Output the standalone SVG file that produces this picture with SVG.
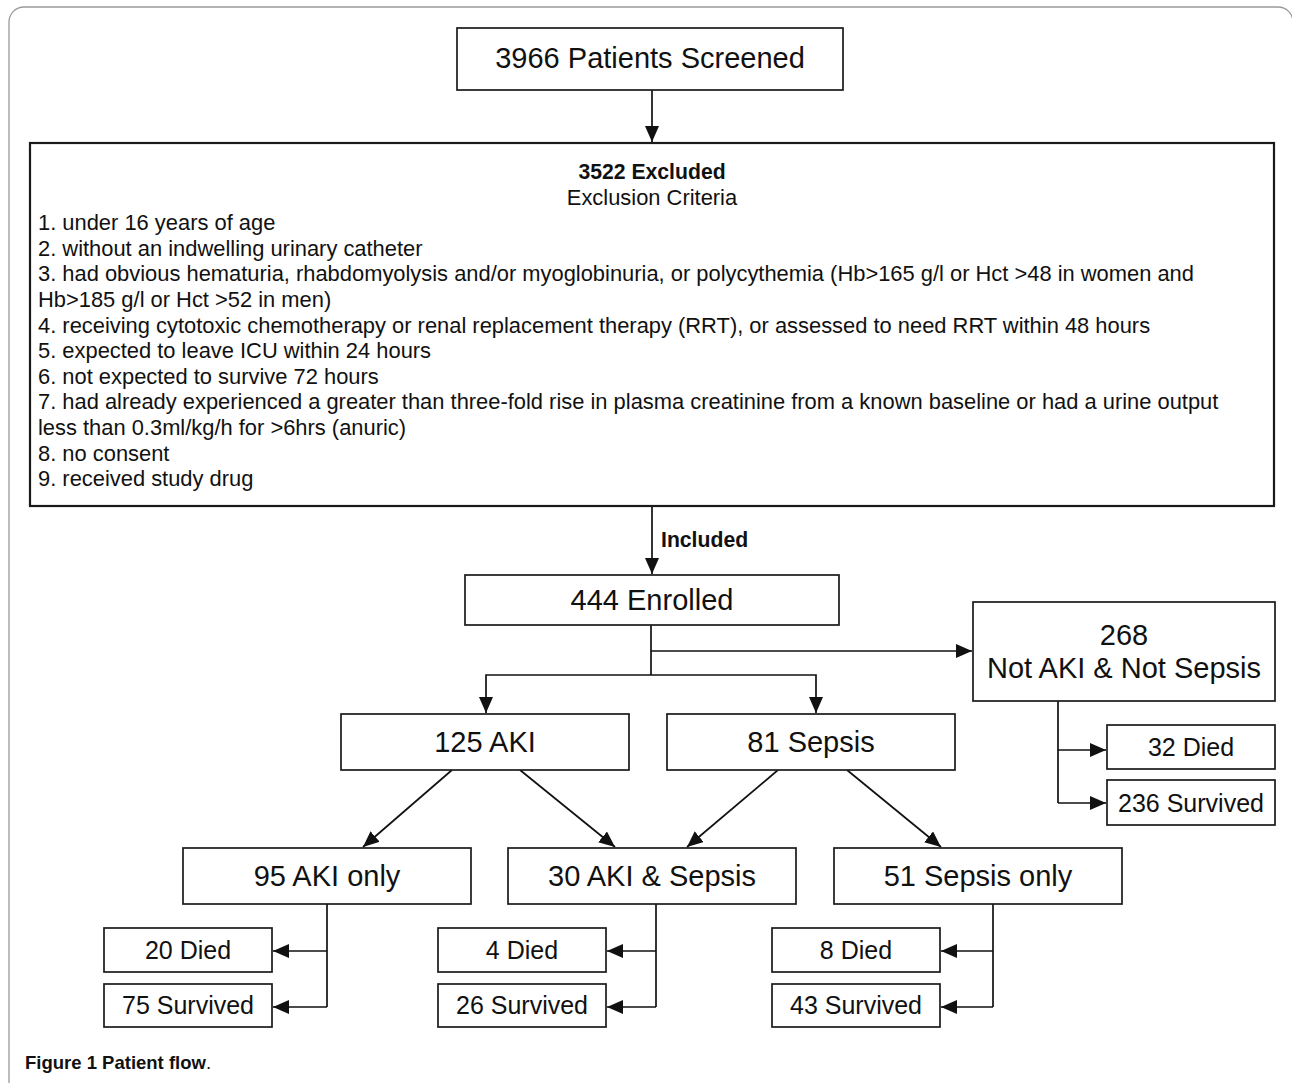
<svg xmlns="http://www.w3.org/2000/svg" width="1292" height="1085" viewBox="0 0 1292 1085">
<style>
.box{fill:#fff;stroke:#1a1a1a;stroke-width:1.7}
.big{font-family:"Liberation Sans",Arial,sans-serif;font-size:29px;fill:#111;text-anchor:middle}
.sm{font-family:"Liberation Sans",Arial,sans-serif;font-size:25px;fill:#111;text-anchor:middle}
.ex{font-family:"Liberation Sans",Arial,sans-serif;font-size:21.9px;fill:#111}
.exb{font-family:"Liberation Sans",Arial,sans-serif;font-size:21.2px;fill:#111;font-weight:bold}
.ln{fill:none;stroke:#111;stroke-width:1.7}
.arr{fill:none;stroke:#111;stroke-width:1.7;marker-end:url(#ah)}
.cap{font-family:"Liberation Sans",Arial,sans-serif;font-size:18.5px;fill:#111}
</style>
<defs>
<marker id="ah" markerUnits="userSpaceOnUse" markerWidth="17" markerHeight="14" refX="16" refY="7" orient="auto">
<path d="M0,0 L16,7 L0,14 z" fill="#111"/>
</marker>
</defs>
<rect width="1292" height="1085" fill="#fff"/>
<path d="M9,1083 V22 A15,15 0 0 1 24,7 H1278 A15,15 0 0 1 1293,22 V1083" fill="none" stroke="#9a9a9a" stroke-width="1.3"/>

<g id="connectors">
<line class="arr" x1="652" y1="90" x2="652" y2="142"/>
<line class="arr" x1="652" y1="506" x2="652" y2="574"/>
<polyline class="ln" points="651,625 651,675"/>
<line class="arr" x1="651" y1="651" x2="972" y2="651"/>
<polyline class="arr" points="651,675 486,675 486,713"/>
<polyline class="arr" points="651,675 816,675 816,713"/>
<line class="arr" x1="452" y1="770" x2="363" y2="847"/>
<line class="arr" x1="520" y1="770" x2="615" y2="847"/>
<line class="arr" x1="778" y1="770" x2="687" y2="847"/>
<line class="arr" x1="847" y1="770" x2="941" y2="847"/>
<polyline class="ln" points="327,904 327,1007"/>
<line class="arr" x1="327" y1="951" x2="273" y2="951"/>
<line class="arr" x1="327" y1="1007" x2="273" y2="1007"/>
<polyline class="ln" points="656,904 656,1007"/>
<line class="arr" x1="656" y1="951" x2="607" y2="951"/>
<line class="arr" x1="656" y1="1007" x2="607" y2="1007"/>
<polyline class="ln" points="993,904 993,1007"/>
<line class="arr" x1="993" y1="951" x2="941" y2="951"/>
<line class="arr" x1="993" y1="1007" x2="941" y2="1007"/>
<polyline class="ln" points="1058,701 1058,803"/>
<line class="arr" x1="1058" y1="750" x2="1106" y2="750"/>
<line class="arr" x1="1058" y1="803" x2="1106" y2="803"/>
<text class="exb" x="661" y="547">Included</text>
</g>

<g id="screened">
<rect class="box" x="457" y="28" width="386" height="62"/>
<text class="big" x="650" y="68">3966 Patients Screened</text>
</g>

<g id="excluded">
<rect class="box" x="30" y="143" width="1244" height="363" style="stroke-width:2.2"/>
<text class="exb" x="652" y="179" text-anchor="middle">3522 Excluded</text>
<text class="ex" x="652" y="204.6" text-anchor="middle">Exclusion Criteria</text>
<text class="ex" x="38" y="230.2">1. under 16 years of age</text>
<text class="ex" x="38" y="255.8">2. without an indwelling urinary catheter</text>
<text class="ex" x="38" y="281.4">3. had obvious hematuria, rhabdomyolysis and/or myoglobinuria, or polycythemia (Hb&gt;165 g/l or Hct &gt;48 in women and</text>
<text class="ex" x="38" y="307">Hb&gt;185 g/l or Hct &gt;52 in men)</text>
<text class="ex" x="38" y="332.6">4. receiving cytotoxic chemotherapy or renal replacement therapy (RRT), or assessed to need RRT within 48 hours</text>
<text class="ex" x="38" y="358.2">5. expected to leave ICU within 24 hours</text>
<text class="ex" x="38" y="383.8">6. not expected to survive 72 hours</text>
<text class="ex" x="38" y="409.4">7. had already experienced a greater than three-fold rise in plasma creatinine from a known baseline or had a urine output</text>
<text class="ex" x="38" y="435">less than 0.3ml/kg/h for &gt;6hrs (anuric)</text>
<text class="ex" x="38" y="460.6">8. no consent</text>
<text class="ex" x="38" y="486.2">9. received study drug</text>
</g>

<g id="enrolled">
<rect class="box" x="465" y="575" width="374" height="50"/>
<text class="big" x="652" y="610">444 Enrolled</text>
</g>

<g id="notaki">
<rect class="box" x="973" y="602" width="302" height="99"/>
<text class="big" x="1124" y="645">268</text>
<text class="big" x="1124" y="678">Not AKI &amp; Not Sepsis</text>
</g>

<g id="aki">
<rect class="box" x="341" y="714" width="288" height="56"/>
<text class="big" x="485" y="752">125 AKI</text>
</g>

<g id="sepsis">
<rect class="box" x="667" y="714" width="288" height="56"/>
<text class="big" x="811" y="752">81 Sepsis</text>
</g>

<g id="akionly">
<rect class="box" x="183" y="848" width="288" height="56"/>
<text class="big" x="327" y="886">95 AKI only</text>
</g>

<g id="akisepsis">
<rect class="box" x="508" y="848" width="288" height="56"/>
<text class="big" x="652" y="886">30 AKI &amp; Sepsis</text>
</g>

<g id="sepsisonly">
<rect class="box" x="834" y="848" width="288" height="56"/>
<text class="big" x="978" y="886">51 Sepsis only</text>
</g>

<g id="died20">
<rect class="box" x="104" y="928" width="168" height="44"/>
<text class="sm" x="188" y="959">20 Died</text>
</g>
<g id="surv75">
<rect class="box" x="104" y="984" width="168" height="43"/>
<text class="sm" x="188" y="1014">75 Survived</text>
</g>
<g id="died4">
<rect class="box" x="438" y="928" width="168" height="44"/>
<text class="sm" x="522" y="959">4 Died</text>
</g>
<g id="surv26">
<rect class="box" x="438" y="984" width="168" height="43"/>
<text class="sm" x="522" y="1014">26 Survived</text>
</g>
<g id="died8">
<rect class="box" x="772" y="928" width="168" height="44"/>
<text class="sm" x="856" y="959">8 Died</text>
</g>
<g id="surv43">
<rect class="box" x="772" y="984" width="168" height="43"/>
<text class="sm" x="856" y="1014">43 Survived</text>
</g>
<g id="died32">
<rect class="box" x="1107" y="725" width="168" height="44"/>
<text class="sm" x="1191" y="756">32 Died</text>
</g>
<g id="surv236">
<rect class="box" x="1107" y="780" width="168" height="45"/>
<text class="sm" x="1191" y="812">236 Survived</text>
</g>

<text class="cap" x="25" y="1069"><tspan font-weight="bold">Figure 1 Patient flow</tspan>.</text>
</svg>
